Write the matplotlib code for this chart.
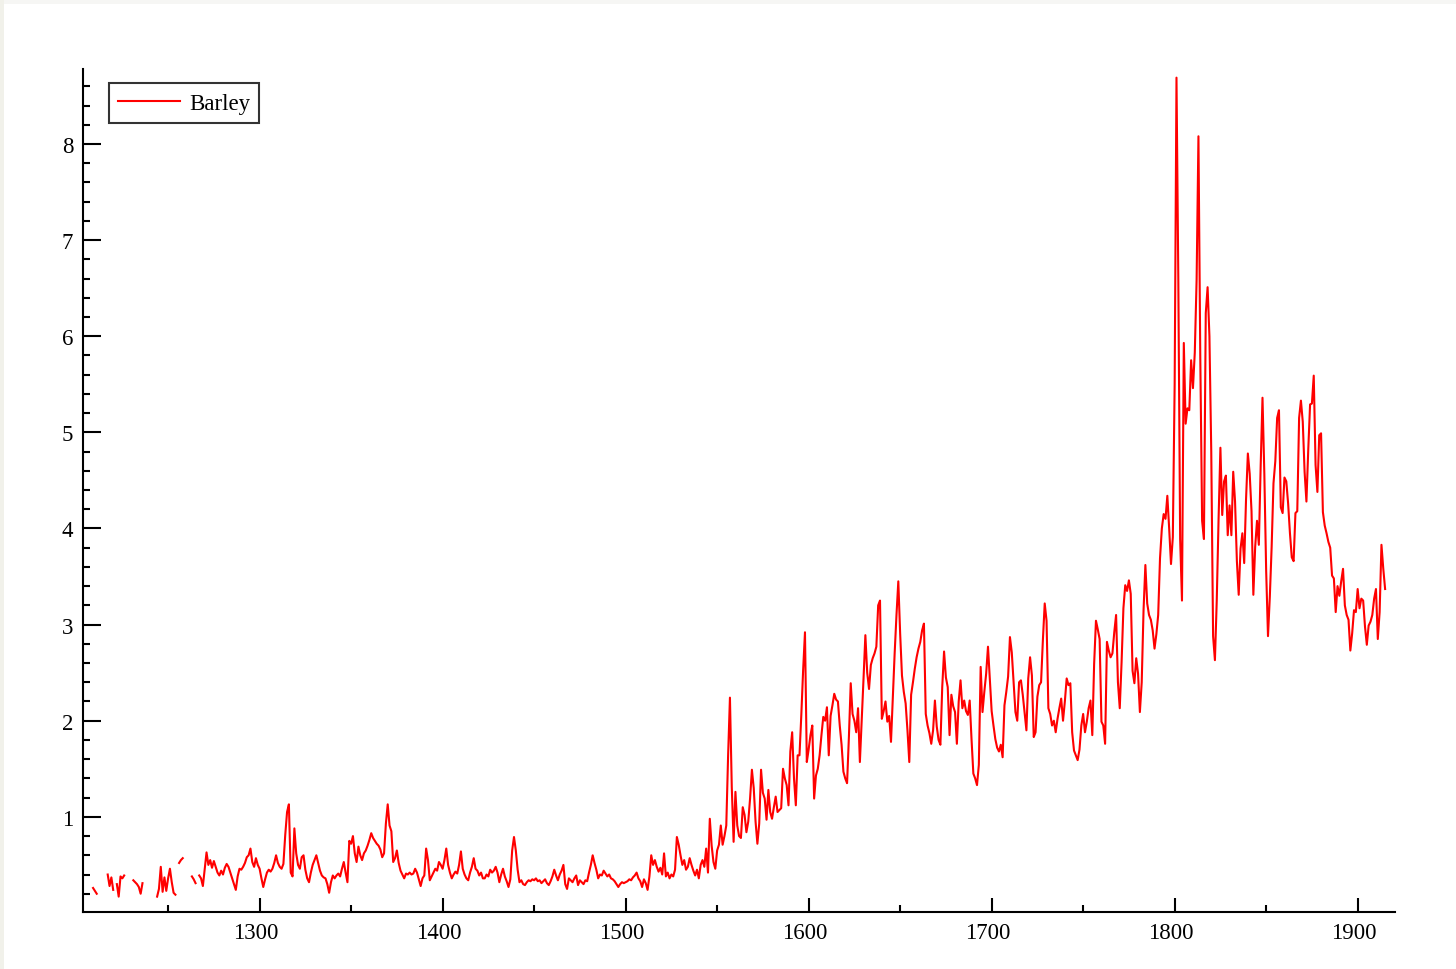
import numpy as np
import matplotlib
matplotlib.use("Agg")
import matplotlib.pyplot as plt
from matplotlib.ticker import MultipleLocator
from matplotlib.transforms import ScaledTranslation
from matplotlib.patches import Rectangle

nan = np.nan

# Barley price, one value per year, decade rows starting at 1200 (nan = no data)
start_year = 1200
barley = [
    nan, nan, nan, nan, nan, nan, nan, nan, nan, 0.26,   # 1200
    0.23, 0.20, nan, nan, nan, nan, nan, 0.40, 0.28, 0.37,   # 1210
    0.24, nan, 0.30, 0.17, 0.38, 0.36, 0.39, nan, nan, nan,   # 1220
    nan, 0.34, 0.32, 0.30, 0.27, 0.20, 0.31, nan, nan, nan,   # 1230
    nan, nan, nan, nan, 0.17, 0.25, 0.48, 0.22, 0.37, 0.23,   # 1240
    0.36, 0.46, 0.32, 0.21, 0.19, nan, 0.52, 0.55, 0.57, nan,   # 1250
    nan, nan, nan, 0.38, 0.35, 0.31, nan, 0.39, 0.36, 0.28,   # 1260
    0.45, 0.63, 0.50, 0.55, 0.47, 0.54, 0.48, 0.42, 0.39, 0.44,   # 1270
    0.40, 0.47, 0.51, 0.48, 0.42, 0.36, 0.30, 0.24, 0.38, 0.46,   # 1280
    0.45, 0.48, 0.52, 0.58, 0.60, 0.67, 0.53, 0.48, 0.57, 0.50,   # 1290
    0.46, 0.36, 0.27, 0.35, 0.42, 0.45, 0.43, 0.46, 0.52, 0.60,   # 1300
    0.52, 0.48, 0.46, 0.51, 0.81, 1.05, 1.13, 0.42, 0.38, 0.88,   # 1310
    0.62, 0.50, 0.46, 0.58, 0.60, 0.45, 0.36, 0.32, 0.42, 0.50,   # 1320
    0.55, 0.60, 0.52, 0.44, 0.39, 0.37, 0.36, 0.30, 0.21, 0.32,   # 1330
    0.39, 0.36, 0.39, 0.41, 0.38, 0.46, 0.53, 0.42, 0.32, 0.75,   # 1340
    0.72, 0.80, 0.62, 0.53, 0.69, 0.60, 0.55, 0.62, 0.65, 0.70,   # 1350
    0.76, 0.83, 0.78, 0.75, 0.72, 0.70, 0.66, 0.58, 0.62, 0.93,   # 1360
    1.13, 0.91, 0.85, 0.53, 0.57, 0.65, 0.52, 0.44, 0.40, 0.36,   # 1370
    0.41, 0.40, 0.42, 0.40, 0.41, 0.46, 0.42, 0.35, 0.28, 0.36,   # 1380
    0.39, 0.67, 0.55, 0.34, 0.38, 0.42, 0.46, 0.44, 0.53, 0.50,   # 1390
    0.46, 0.55, 0.67, 0.50, 0.42, 0.36, 0.40, 0.43, 0.41, 0.50,   # 1400
    0.64, 0.46, 0.40, 0.36, 0.34, 0.42, 0.48, 0.57, 0.46, 0.44,   # 1410
    0.39, 0.42, 0.36, 0.36, 0.40, 0.38, 0.45, 0.42, 0.44, 0.48,   # 1420
    0.42, 0.32, 0.40, 0.46, 0.38, 0.33, 0.27, 0.35, 0.65, 0.79,   # 1430
    0.65, 0.45, 0.32, 0.34, 0.30, 0.29, 0.32, 0.34, 0.33, 0.35,   # 1440
    0.34, 0.36, 0.33, 0.34, 0.31, 0.33, 0.35, 0.31, 0.29, 0.33,   # 1450
    0.38, 0.45, 0.39, 0.34, 0.40, 0.44, 0.50, 0.30, 0.25, 0.36,   # 1460
    0.34, 0.32, 0.36, 0.39, 0.29, 0.34, 0.32, 0.30, 0.34, 0.33,   # 1470
    0.42, 0.50, 0.60, 0.52, 0.45, 0.36, 0.40, 0.39, 0.44, 0.41,   # 1480
    0.38, 0.40, 0.36, 0.35, 0.33, 0.30, 0.27, 0.30, 0.32, 0.31,   # 1490
    0.32, 0.33, 0.35, 0.34, 0.37, 0.39, 0.42, 0.36, 0.33, 0.27,   # 1500
    0.35, 0.31, 0.24, 0.38, 0.60, 0.50, 0.55, 0.48, 0.43, 0.47,   # 1510
    0.40, 0.62, 0.38, 0.42, 0.36, 0.40, 0.38, 0.45, 0.79, 0.71,   # 1520
    0.60, 0.50, 0.55, 0.45, 0.48, 0.57, 0.50, 0.44, 0.39, 0.45,   # 1530
    0.36, 0.50, 0.55, 0.48, 0.67, 0.42, 0.98, 0.70, 0.53, 0.46,   # 1540
    0.65, 0.71, 0.91, 0.71, 0.80, 0.91, 1.64, 2.24, 1.31, 0.74,   # 1550
    1.26, 0.91, 0.80, 0.78, 1.10, 1.02, 0.84, 0.95, 1.19, 1.49,   # 1560
    1.30, 0.95, 0.72, 0.93, 1.49, 1.25, 1.19, 0.97, 1.28, 1.05,   # 1570
    0.98, 1.10, 1.21, 1.05, 1.07, 1.09, 1.50, 1.40, 1.33, 1.12,   # 1580
    1.68, 1.88, 1.40, 1.12, 1.64, 1.64, 2.06, 2.53, 2.92, 1.57,   # 1590
    1.70, 1.85, 1.95, 1.19, 1.43, 1.50, 1.64, 1.85, 2.04, 2.00,   # 1600
    2.14, 1.64, 2.05, 2.16, 2.28, 2.22, 2.20, 1.95, 1.75, 1.47,   # 1610
    1.40, 1.35, 1.83, 2.39, 2.07, 2.00, 1.88, 2.13, 1.57, 2.00,   # 1620
    2.44, 2.89, 2.50, 2.33, 2.58, 2.65, 2.70, 2.77, 3.20, 3.25,   # 1630
    2.02, 2.10, 2.20, 1.99, 2.05, 1.78, 2.23, 2.70, 3.10, 3.45,   # 1640
    2.91, 2.47, 2.30, 2.18, 1.90, 1.57, 2.27, 2.40, 2.54, 2.66,   # 1650
    2.75, 2.82, 2.94, 3.01, 2.07, 1.95, 1.87, 1.76, 1.90, 2.21,   # 1660
    1.94, 1.80, 1.75, 2.35, 2.72, 2.45, 2.35, 1.85, 2.27, 2.15,   # 1670
    2.09, 1.76, 2.20, 2.42, 2.13, 2.21, 2.10, 2.06, 2.21, 1.81,   # 1680
    1.45, 1.40, 1.33, 1.54, 2.56, 2.09, 2.30, 2.49, 2.77, 2.44,   # 1690
    2.10, 1.95, 1.81, 1.72, 1.68, 1.75, 1.62, 2.16, 2.30, 2.46,   # 1700
    2.87, 2.71, 2.40, 2.09, 2.00, 2.40, 2.42, 2.27, 2.09, 1.90,   # 1710
    2.44, 2.66, 2.47, 1.83, 1.88, 2.25, 2.37, 2.40, 2.84, 3.22,   # 1720
    3.04, 2.13, 2.07, 1.95, 2.00, 1.88, 2.02, 2.13, 2.23, 2.00,   # 1730
    2.20, 2.44, 2.37, 2.39, 1.88, 1.69, 1.64, 1.59, 1.70, 1.95,   # 1740
    2.07, 1.88, 1.99, 2.13, 2.21, 1.85, 2.59, 3.04, 2.95, 2.85,   # 1750
    1.99, 1.95, 1.76, 2.82, 2.73, 2.66, 2.70, 2.92, 3.10, 2.40,   # 1760
    2.13, 2.61, 3.17, 3.41, 3.35, 3.46, 3.32, 2.52, 2.39, 2.65,   # 1770
    2.49, 2.09, 2.40, 3.15, 3.62, 3.22, 3.10, 3.05, 2.94, 2.75,   # 1780
    2.90, 3.10, 3.69, 4.00, 4.15, 4.10, 4.34, 4.00, 3.63, 3.91,   # 1790
    5.50, 8.69, 6.59, 3.89, 3.25, 5.93, 5.09, 5.25, 5.23, 5.75,   # 1800
    5.46, 5.83, 6.59, 8.08, 5.79, 4.08, 3.89, 6.24, 6.51, 6.00,   # 1810
    4.80, 2.88, 2.63, 3.25, 4.10, 4.84, 4.14, 4.49, 4.55, 3.93,   # 1820
    4.24, 3.93, 4.59, 4.28, 3.66, 3.31, 3.79, 3.95, 3.64, 4.30,   # 1830
    4.78, 4.57, 4.18, 3.31, 3.81, 4.08, 3.83, 4.65, 5.36, 4.57,   # 1840
    3.56, 2.88, 3.29, 3.81, 4.47, 4.70, 5.15, 5.23, 4.22, 4.16,   # 1850
    4.53, 4.49, 4.26, 3.95, 3.70, 3.66, 4.16, 4.18, 5.15, 5.33,   # 1860
    5.11, 4.59, 4.28, 4.82, 5.29, 5.30, 5.59, 4.66, 4.38, 4.97,   # 1870
    4.99, 4.17, 4.03, 3.95, 3.86, 3.80, 3.51, 3.48, 3.13, 3.40,   # 1880
    3.30, 3.45, 3.58, 3.20, 3.10, 3.05, 2.73, 2.91, 3.15, 3.13,   # 1890
    3.37, 3.17, 3.27, 3.25, 2.98, 2.79, 2.99, 3.03, 3.10, 3.27,   # 1900
    3.37, 2.85, 3.13, 3.83, 3.58, 3.37,                           # 1910
]
years = list(range(start_year, start_year + len(barley)))

x_ticks = [1300, 1400, 1500, 1600, 1700, 1800, 1900]
y_ticks = [1, 2, 3, 4, 5, 6, 7, 8]
series_label = "Barley"

FONT = ["Liberation Serif", "DejaVu Serif"]
plt.rcParams["font.family"] = FONT

W, H = 1456, 970
fig = plt.figure(figsize=(W / 100, H / 100), dpi=100)
fig.patch.set_facecolor("white")

# faint screenshot border (top and left strips)
fig.add_artist(Rectangle((0, 1 - 5 / H), 1, 5 / H, transform=fig.transFigure,
                         facecolor="#f6f6f4", edgecolor="none", zorder=0))
fig.add_artist(Rectangle((0, 0), 4 / W, 1, transform=fig.transFigure,
                         facecolor="#f1f1ea", edgecolor="none", zorder=0))

ax = fig.add_axes([83 / W, 57 / H, (1395 - 83) / W, (913 - 70) / H])
ax.plot(years, barley, color="#ff0000", lw=1.5, label=series_label)

ax.set_xlim(1203.5, 1920.4)
ax.set_ylim(0.01, 8.78)

ax.set_xticks(x_ticks)
ax.set_yticks(y_ticks)
ax.xaxis.set_minor_locator(MultipleLocator(50))
ax.yaxis.set_minor_locator(MultipleLocator(0.2))

for side in ("top", "right"):
    ax.spines[side].set_visible(False)
for side in ("left", "bottom"):
    ax.spines[side].set_linewidth(1.5)
    ax.spines[side].set_color("black")

ax.tick_params(which="major", direction="in", length=10, width=1.5,
               labelsize=16.5, colors="black", pad=7)
ax.tick_params(which="minor", direction="in", length=5, width=1.5)
ax.tick_params(axis="y", which="major", length=13)

shift = ScaledTranslation(-4 / 100, 0, fig.dpi_scale_trans)
for lbl in ax.get_xticklabels():
    lbl.set_transform(lbl.get_transform() + shift)

leg = ax.legend(loc="upper left", bbox_to_anchor=(0.0198, 0.983),
                borderaxespad=0, frameon=True, fancybox=False, shadow=False,
                fontsize=16.5, handlelength=2.7, handletextpad=0.4,
                borderpad=0.4)
leg.get_frame().set_edgecolor("black")
leg.get_frame().set_linewidth(1.5)

fig.savefig("out.png", dpi=100, facecolor=fig.get_facecolor())
